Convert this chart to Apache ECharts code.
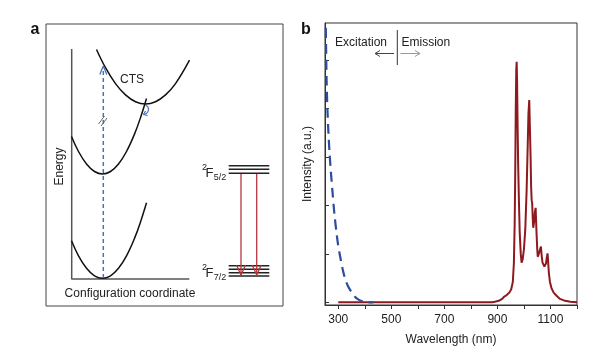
<!DOCTYPE html>
<html>
<head>
<meta charset="utf-8">
<script src="https://cdn.jsdelivr.net/npm/echarts@6/dist/echarts.min.js"></script>
<style>
  html, body { margin: 0; padding: 0; background: #fff; }
  #chartRoot { width: 603px; height: 353px; }
</style>
</head>
<body>
<div id="chartRoot"></div>
<script>
// ---- panel b: spectra ----
const wavelengthTicks = [300, 400, 500, 600, 700, 800, 900, 1000, 1100, 1200];
const wavelengthLabels = [300, 500, 700, 900, 1100];
const intensityTicks = [0, 1, 2, 3, 4, 5];

// [wavelength nm, intensity a.u.]
const excitation = [
    [252, 6.0], [254, 5.3], [256, 4.6], [259, 4.0], [263, 3.5], [267, 3.1], [272, 2.7],
    [278, 2.3], [285, 1.85], [292, 1.5], [299, 1.2], [307, 0.95], [316, 0.7], [325, 0.5],
    [336, 0.34], [350, 0.21], [362, 0.12], [375, 0.06], [390, 0.02], [405, 0], [432, 0]
];
const emission = [
    [300, 0], [880, 0], [890, 0.01], [905, 0.03], [918, 0.07], [926, 0.12], [935, 0.15],
    [945, 0.2], [952, 0.27], [958, 0.42], [962, 0.8], [965, 1.6], [967, 2.6], [969, 3.9],
    [971, 4.8], [972.6, 4.97], [974, 4.6], [976, 3.7], [978, 2.9], [981, 2.1], [984, 1.45],
    [988, 1.0], [991, 0.82], [995, 0.88], [1000, 1.1], [1005, 1.5], [1010, 2.3], [1014, 3.2],
    [1017, 3.9], [1020, 4.18], [1022, 3.7], [1025, 3.0], [1027, 2.4], [1029, 2.11], [1031, 2.05],
    [1033, 1.75], [1035, 1.54], [1038, 1.65], [1041, 1.85], [1044, 1.95], [1047, 1.5], [1050, 1.1],
    [1052, 0.94], [1056, 1.0], [1060, 1.08], [1064, 1.15], [1067, 0.95], [1070, 0.82], [1074, 0.78],
    [1077, 0.74], [1080, 0.7], [1083, 0.8], [1086, 0.92], [1089, 1.01], [1091, 0.85], [1094, 0.6],
    [1098, 0.42], [1104, 0.29], [1112, 0.2], [1122, 0.14], [1136, 0.07], [1155, 0.03],
    [1175, 0.01], [1200, 0]
];

// ---- panel a: configuration coordinate schematic (arbitrary units) ----
const energyAxes = [[25.7, 257], [25.7, 27], [143.3, 27]];
const groundCurve = [
    [25.5, 65.2], [32.5, 50.2], [40.5, 37.7], [48.5, 30.2], [56.5, 27.7], [64.5, 30.2],
    [72.5, 37.7], [80.5, 50.2], [88.5, 67.6], [94.5, 84], [100.5, 103.2]
];
const excitedCurve = [
    [25.5, 169.5], [32.5, 154.5], [40.5, 142], [48.5, 134.5], [56.5, 132], [64.5, 134.5],
    [72.5, 142], [80.5, 154.5], [88.5, 171.9], [94.5, 188.3], [100.5, 207.5]
];
const ctsCurve = [
    [50.5, 256.5], [59.5, 238.3], [69.5, 222.4], [79.5, 211.1], [89.5, 204.3], [99.5, 202],
    [109.5, 204.3], [119.5, 211.1], [129.5, 222.4], [143.5, 245.9]
];
const pumpLine = [[57.3, 28], [57.3, 238]];
const pumpHead = [[53.8, 231.5], [57.3, 240], [60.8, 231.5]];
const breakMarks = [[[52.5, 182], [58.5, 190]], [[55, 180], [61, 188]]];
const relaxCurl = [[99.5, 201], [102.5, 197.5], [101.5, 193.5], [97.5, 191.5]];
const relaxHead = [[99.5, 195], [97.5, 191.5], [101.5, 190.5]];
const upperLevels = [140.3, 136.7, 132.7];
const lowerLevels = [40.3, 36.7, 33.3, 30];
const levelSpan = [182.7, 223.3];
const decayX = [195, 210.7];
const decayFrom = 132;
const decayTo = 31;

const FONT = "Liberation Sans, Arial, sans-serif";
const myChart = echarts.init(document.querySelector("#chartRoot"), null, { renderer: "canvas" });

let schemeLine = (data, color, width, extra) => Object.assign({
    type: "line",
    xAxisIndex: 0,
    yAxisIndex: 0,
    data: data,
    showSymbol: false,
    symbol: "none",
    silent: true,
    lineStyle: { color: color, width: width },
    z: 3
}, extra || {});

const seriesA = [];
seriesA.push(schemeLine(energyAxes, "#555", 1.5));
seriesA.push(schemeLine(groundCurve, "#111", 1.5, { smooth: 0.4 }));
seriesA.push(schemeLine(excitedCurve, "#111", 1.5, { smooth: 0.4 }));
seriesA.push(schemeLine(ctsCurve, "#111", 1.5, { smooth: 0.4 }));
seriesA.push(schemeLine(pumpLine, "#4a72b8", 1.5, { lineStyle: { color: "#4a72b8", width: 1.5, type: [4, 3] } }));
seriesA.push(schemeLine(pumpHead, "#4a72b8", 1.3));
for (let mark of breakMarks) {
    seriesA.push(schemeLine(mark, "#666", 1));
}
seriesA.push(schemeLine(relaxCurl, "#4a72b8", 1.2, { smooth: 0.5 }));
seriesA.push(schemeLine(relaxHead, "#4a72b8", 1.2));
for (let y of upperLevels.concat(lowerLevels)) {
    seriesA.push(schemeLine([[levelSpan[0], y], [levelSpan[1], y]], "#222", 1.6));
}
for (let x of decayX) {
    seriesA.push(schemeLine([[x, decayFrom], [x, decayTo]], "#b5363c", 1.3));
    seriesA.push(schemeLine([[x - 4.5, decayTo + 10], [x, decayTo], [x + 4.5, decayTo + 10]], "#b5363c", 1.3));
}

const seriesB = [
    {
        type: "line",
        name: "Emission",
        xAxisIndex: 1,
        yAxisIndex: 1,
        data: emission,
        showSymbol: false,
        symbol: "none",
        lineStyle: { color: "#8e1a1f", width: 2 },
        z: 3
    },
    {
        type: "line",
        name: "Excitation",
        xAxisIndex: 1,
        yAxisIndex: 1,
        data: excitation,
        showSymbol: false,
        symbol: "none",
        smooth: 0.3,
        lineStyle: { color: "#2c4d9c", width: 2.2, type: [10, 6] },
        z: 4
    }
];

let txt = (text, x, y, opts) => ({
    type: "text",
    x: x,
    y: y,
    rotation: (opts && opts.rotation) || 0,
    style: {
        text: text,
        fill: (opts && opts.fill) || "#222",
        font: (opts && opts.font) || ("12px " + FONT),
        align: (opts && opts.align) || "center",
        verticalAlign: "middle"
    },
    z: 10
});
let gline = (x1, y1, x2, y2, color) => ({
    type: "line",
    shape: { x1: x1, y1: y1, x2: x2, y2: y2 },
    style: { stroke: color, lineWidth: 1 },
    z: 10
});
let gpoly = (points, color) => ({
    type: "polyline",
    shape: { points: points },
    style: { stroke: color, lineWidth: 1, fill: null },
    z: 10
});

const option = {
    animation: false,
    backgroundColor: "#fff",
    grid: [
        { left: 46, top: 24, width: 237, height: 282, show: true, borderColor: "#444", borderWidth: 1, backgroundColor: "transparent" },
        { left: 325, top: 23, width: 252, height: 282, show: true, borderColor: "#333", borderWidth: 1, backgroundColor: "transparent" }
    ],
    xAxis: [
        { gridIndex: 0, type: "value", min: 0, max: 237, show: false },
        {
            gridIndex: 1,
            type: "value",
            min: 250,
            max: 1200,
            name: "Wavelength (nm)",
            nameLocation: "middle",
            nameGap: 29,
            nameTextStyle: { fontSize: 12, color: "#222", fontFamily: FONT },
            axisLine: { show: true, onZero: false, lineStyle: { color: "#333", width: 1 } },
            axisTick: { show: true, inside: false, length: 4, customValues: wavelengthTicks, lineStyle: { color: "#333" } },
            axisLabel: {
                show: true,
                customValues: wavelengthLabels,
                formatter: v => String(v),
                fontSize: 12,
                color: "#222",
                fontFamily: FONT,
                margin: 9
            },
            splitLine: { show: false }
        }
    ],
    yAxis: [
        { gridIndex: 0, type: "value", min: 0, max: 282, show: false },
        {
            gridIndex: 1,
            type: "value",
            min: -0.056,
            max: 5.77,
            name: "Intensity (a.u.)",
            nameLocation: "middle",
            nameGap: 11,
            nameTextStyle: { fontSize: 12, color: "#222", fontFamily: FONT },
            axisLine: { show: true, onZero: false, lineStyle: { color: "#333", width: 1 } },
            axisTick: { show: true, inside: true, length: 4, customValues: intensityTicks, lineStyle: { color: "#333" } },
            axisLabel: { show: false },
            splitLine: { show: false }
        }
    ],
    series: seriesA.concat(seriesB),
    graphic: [
        // panel letters
        txt("a", 35, 30, { font: "bold 16px " + FONT, fill: "#111" }),
        txt("b", 306, 30, { font: "bold 16px " + FONT, fill: "#111" }),
        // panel a labels
        txt("CTS", 132, 80),
        txt("Energy", 59.5, 166.5, { rotation: Math.PI / 2 }),
        txt("Configuration coordinate", 130, 294),
        txt("2", 204.5, 167.5, { font: "9px " + FONT }),
        txt("F", 209.5, 173, { font: "13px " + FONT }),
        txt("5/2", 220, 177.5, { font: "9px " + FONT }),
        txt("2", 204.5, 267.5, { font: "9px " + FONT }),
        txt("F", 209.5, 273, { font: "13px " + FONT }),
        txt("7/2", 220, 277.5, { font: "9px " + FONT }),
        // panel b annotation
        txt("Excitation", 387, 43, { align: "right" }),
        txt("Emission", 401.5, 43, { align: "left" }),
        gline(397.3, 30, 397.3, 65, "#333"),
        gline(375, 53.5, 394, 53.5, "#444"),
        gpoly([[380, 50.5], [375, 53.5], [380, 56.5]], "#444"),
        gline(400.5, 53.5, 420, 53.5, "#999"),
        gpoly([[415, 50.5], [420, 53.5], [415, 56.5]], "#999")
    ]
};
myChart.setOption(option, true);
</script>
</body>
</html>
